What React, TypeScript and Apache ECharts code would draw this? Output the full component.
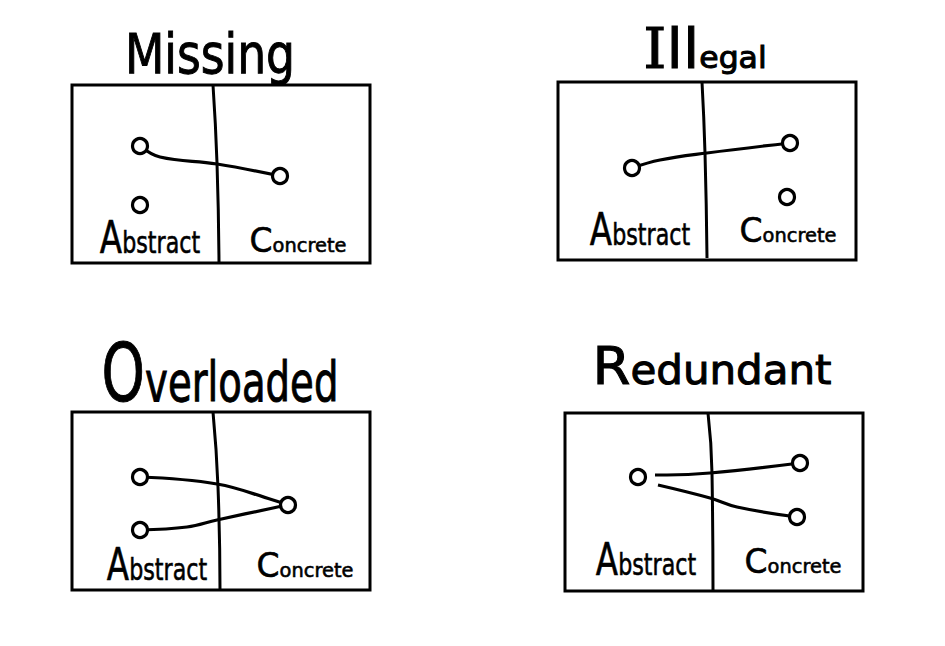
import React, { useEffect, useRef } from "react";
import * as echarts from "echarts";

// ---- data (panel-local coordinates: x right, y down, one unit per pixel) ----
const panelTitles = ["Missing", "Illegal", "Overloaded", "Redundant"];
const sideLabels = ["Abstract", "Concrete"];

const abstractNodes: number[][][] = [
  [[68, 61], [68, 120]],
  [[74, 86]],
  [[68, 65], [68, 118]],
  [[73, 64]],
];
const concreteNodes: number[][][] = [
  [[208, 91]],
  [[232, 61], [229, 115]],
  [[216, 93]],
  [[235, 50], [232, 104]],
];
const links: number[][][][] = [
  [[[68, 61], [88, 72], [145, 79], [208, 91]]],
  [[[74, 86], [102, 78], [149, 71], [232, 61]]],
  [
    [[68, 65], [145, 72], [201, 88], [216, 93]],
    [[68, 118], [115, 115], [145, 108], [201, 96], [216, 93]],
  ],
  [
    [[90, 62], [102, 62], [145, 60], [235, 50]],
    [[93, 72], [145, 85], [172, 94], [232, 104]],
  ],
];
const dividers: number[][][] = [
  [[141, 0], [145, 78], [147, 178]],
  [[144, 0], [147, 71], [149, 176]],
  [[141, 0], [146, 75], [148, 178]],
  [[143, 0], [147, 60], [148, 178]],
];

// ---- layout ----
const W = 298;
const H = 178;
const BASE = 0.154; // baseline sits this many em above a bottom-aligned token's box bottom
const SANS = "'DejaVu Sans', sans-serif";
const SERIF = "'DejaVu Serif', serif";
const boxes = [
  { x: 72, y: 85 },
  { x: 558, y: 82 },
  { x: 72, y: 412 },
  { x: 565, y: 413 },
];
// per-title splits: [chars, fontSize, font]; x = centre, y = baseline
const titleLayout = [
  { x: 210, y: 73, scaleX: 0.83, parts: [[7, 55, SANS]] },
  { x: 705, y: 68, scaleX: 1.05, parts: [[1, 56, SERIF], [2, 56, SANS], [4, 30, SANS]] },
  { x: 220, y: 401, scaleX: 0.69, parts: [[1, 80, SANS], [9, 56, SANS]] },
  { x: 712, y: 384, scaleX: 1.05, parts: [[1, 52, SANS], [8, 40, SANS]] },
];
const labelLayout = [
  [{ x: 78, y: 168 }, { x: 226, y: 167 }],
  [{ x: 82, y: 163 }, { x: 230, y: 160 }],
  [{ x: 85, y: 168 }, { x: 233, y: 165 }],
  [{ x: 81, y: 162 }, { x: 228, y: 160 }],
];
const labelStyle = [
  { parts: [[1, 44, SANS], [7, 30, SANS]], scaleX: 0.74 },
  { parts: [[1, 34, SANS], [7, 20, SANS]], scaleX: 0.97 },
];

function richText(
  str: string,
  parts: any[],
  x: number,
  y: number,
  scaleX: number,
  stroke: number
) {
  const rich: Record<string, any> = {};
  let text = "";
  let pos = 0;
  const maxFs = Math.max(...parts.map((p: any) => p[1]));
  const K = BASE * maxFs;
  parts.forEach(([n, fs, font]: [number, number, string], k: number) => {
    const t = str.slice(pos, pos + n);
    pos += n;
    if (!t) return;
    rich["p" + k] = {
      fontSize: fs,
      verticalAlign: "bottom",
      padding: [0, 0, Math.max(0, K - BASE * fs), 0],
      fontFamily: font,
      fill: "#000",
      stroke: "#000",
      lineWidth: stroke,
    };
    text += `{p${k}|${t}}`;
  });
  return {
    type: "text",
    x,
    y: y + K,
    scaleX,
    silent: true,
    style: {
      text,
      rich,
      align: "center",
      verticalAlign: "bottom",
      fill: "#000",
      fontFamily: SANS,
    },
  };
}

export default function App() {
  const ref = useRef<HTMLDivElement>(null);
  useEffect(() => {
    const chart = echarts.init(ref.current!, null, { renderer: "svg" });
    const series: any[] = [];
    boxes.forEach((_, i) => {
      series.push({
        type: "line",
        xAxisIndex: i,
        yAxisIndex: i,
        data: dividers[i],
        smooth: true,
        symbol: "none",
        lineStyle: { color: "#000", width: 3 },
        z: 2,
      });
      links[i].forEach((l) => {
        series.push({
          type: "line",
          xAxisIndex: i,
          yAxisIndex: i,
          data: l,
          smooth: 0.4,
          symbol: "none",
          lineStyle: { color: "#000", width: 3.2 },
          z: 3,
        });
      });
      series.push({
        type: "scatter",
        xAxisIndex: i,
        yAxisIndex: i,
        data: [...abstractNodes[i], ...concreteNodes[i]],
        symbolSize: 15,
        itemStyle: { color: "#fff", borderColor: "#000", borderWidth: 3.2, opacity: 1 },
        z: 5,
      });
    });

    const graphic: any[] = [];
    panelTitles.forEach((t, i) => {
      const L = titleLayout[i];
      graphic.push(richText(t, L.parts, L.x, L.y, L.scaleX, 1.0));
      sideLabels.forEach((s, j) => {
        const p = labelLayout[i][j];
        const st = labelStyle[j];
        graphic.push(
          richText(s, st.parts, boxes[i].x + p.x, boxes[i].y + p.y, st.scaleX, 0.6)
        );
      });
    });

    chart.setOption({
      animation: false,
      backgroundColor: "#fff",
      grid: boxes.map((b) => ({
        left: b.x,
        top: b.y,
        width: W,
        height: H,
        show: true,
        borderColor: "#000",
        borderWidth: 3,
        backgroundColor: "transparent",
      })),
      xAxis: boxes.map((_, i) => ({ type: "value", gridIndex: i, min: 0, max: W, show: false })),
      yAxis: boxes.map((_, i) => ({
        type: "value",
        gridIndex: i,
        min: 0,
        max: H,
        inverse: true,
        show: false,
      })),
      series,
      graphic,
    });
    return () => chart.dispose();
  }, []);
  return (
    <div
      ref={ref}
      style={{ position: "fixed", left: 0, top: 0, width: 945, height: 646, background: "#fff" }}
    />
  );
}
